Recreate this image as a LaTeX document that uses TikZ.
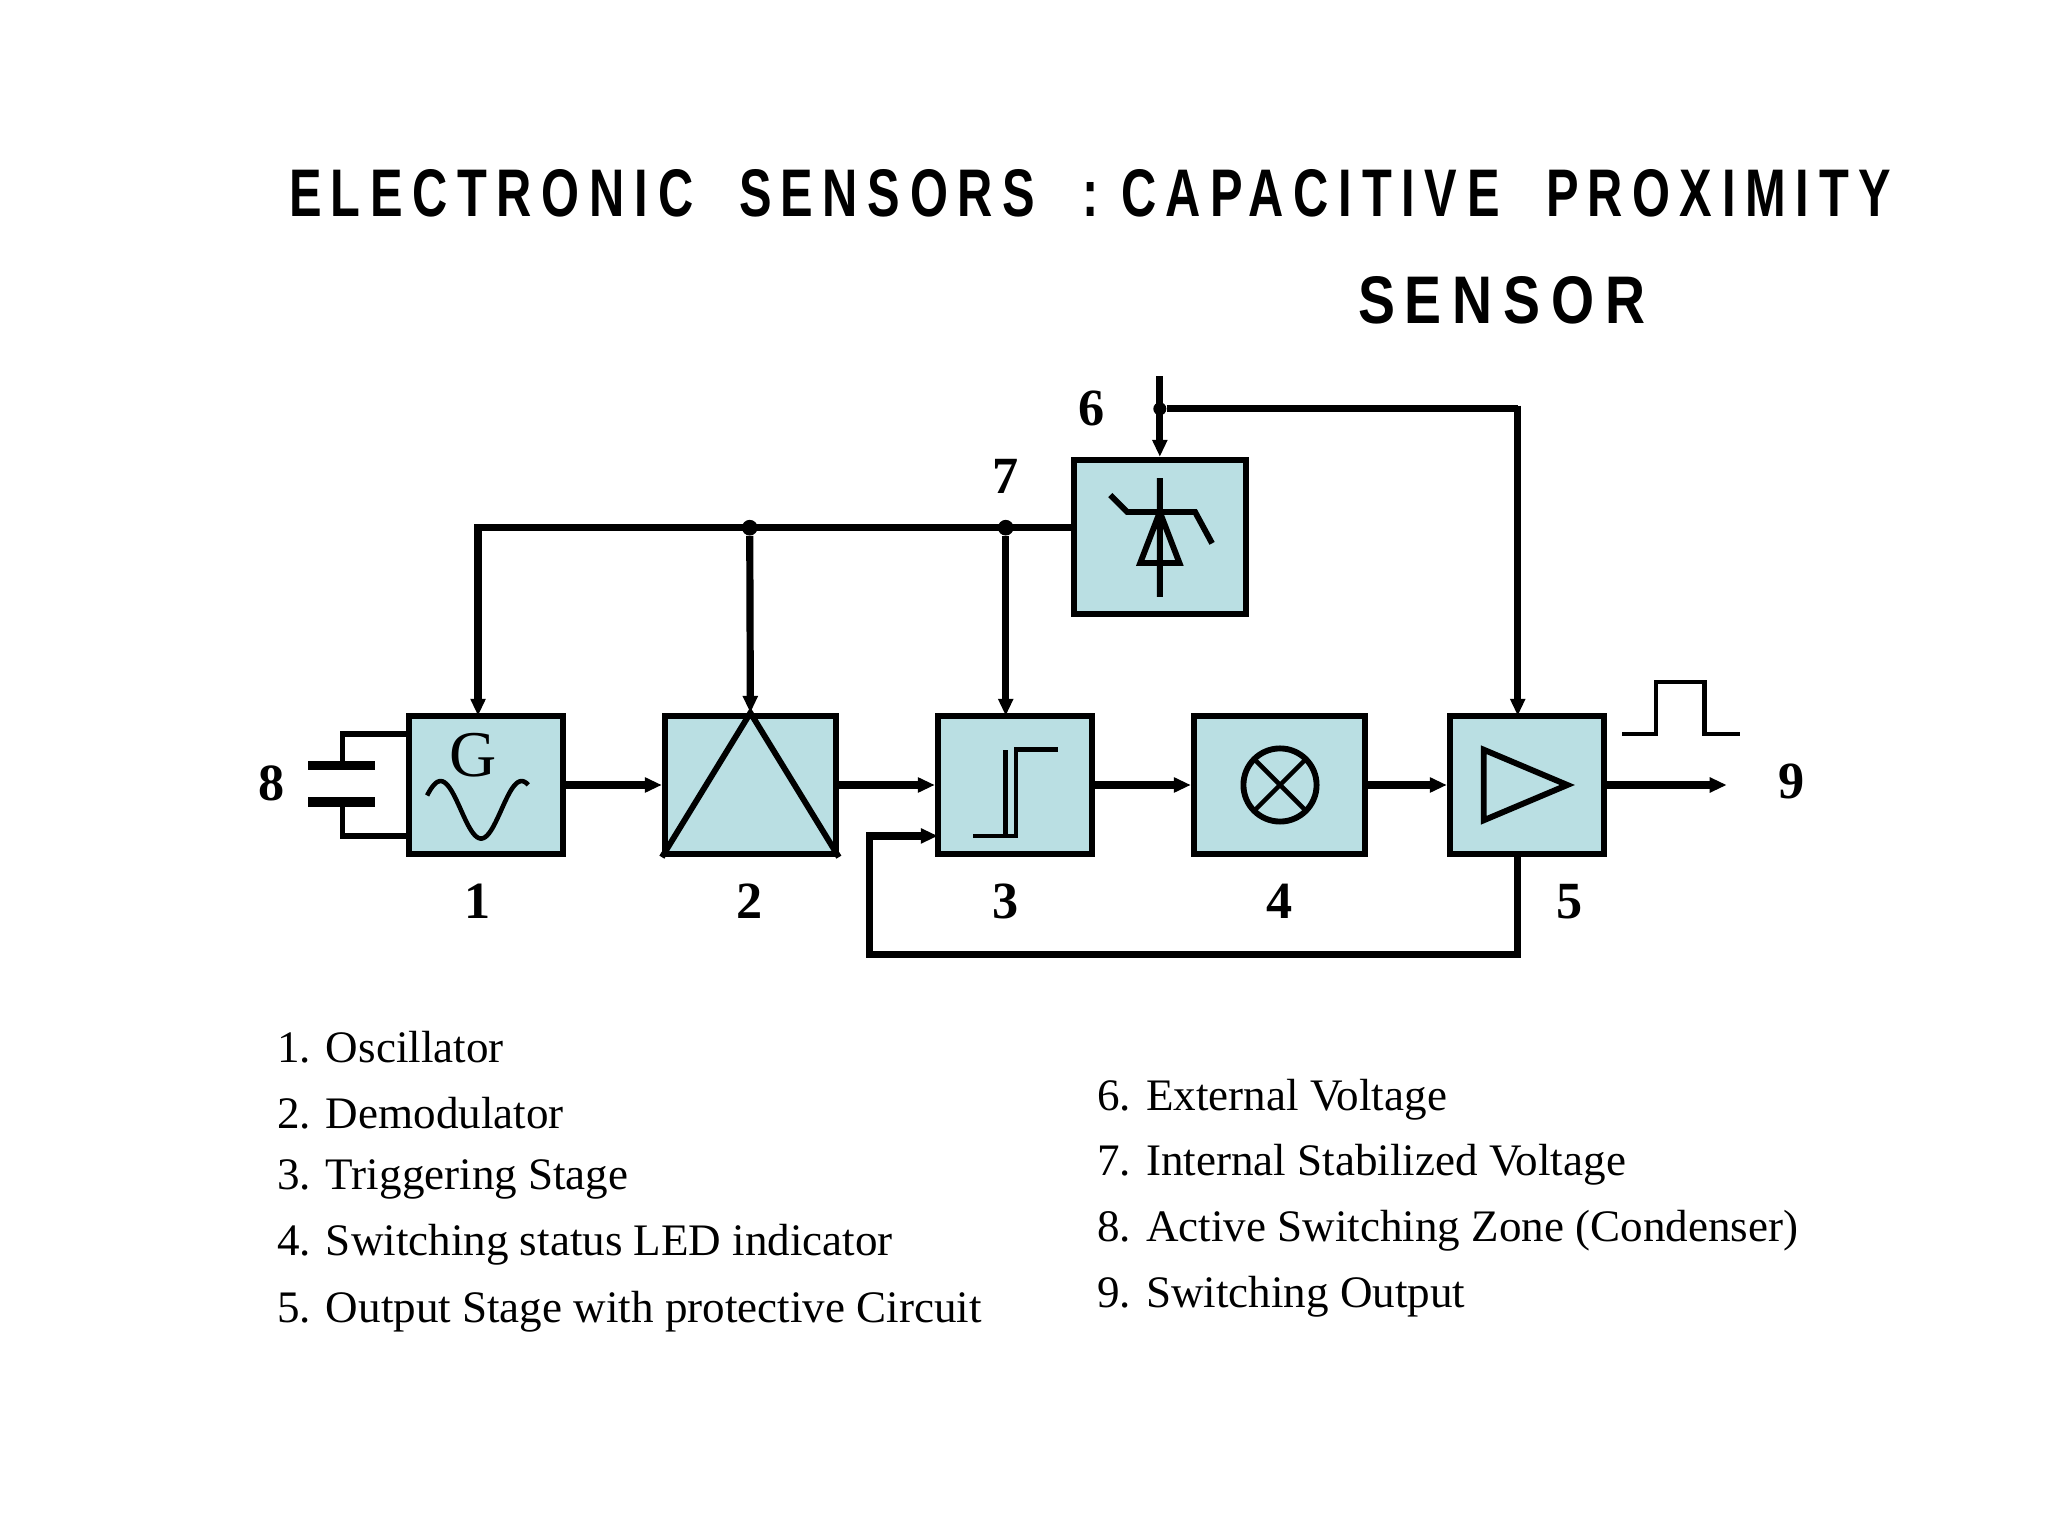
\documentclass[tikz,border=0pt]{standalone}
\usepackage{fontspec}
\setmainfont{Liberation Serif}
\usetikzlibrary{arrows.meta}
\definecolor{blk}{HTML}{BADFE3}
\begin{document}
\begin{tikzpicture}[x=1pt,y=-1pt,
  box/.style={draw,fill=blk,line width=4.5pt,minimum width=#1,minimum height=106pt,inner sep=0pt},
  wire/.style={line width=5.5pt},
  arr/.style={wire,-{Triangle[length=13pt,width=11pt]}},
  sym/.style={line width=4.5pt},
  num/.style={font=\fontsize{40}{40}\selectfont\bfseries},
  leg/.style={font=\fontsize{34.5}{34.5}\selectfont,anchor=west,inner sep=0pt},
  dot/.style={circle,fill,inner sep=0pt,minimum size=12pt}]
\useasboundingbox (0,0) rectangle (1568,1176);
% title
\node[anchor=center,inner sep=0pt] (title) at (835,148) {\resizebox{1226pt}{36pt}{\fontspec{Liberation Sans}[LetterSpace=20]\bfseries E\,LECTRONIC\ \ S\,ENSORS\ \ :\ C\,APACITIVE\ \ P\,ROXIMITY}};
\node[anchor=center,inner sep=0pt] (title2) at (1150,230) {\resizebox{220pt}{36pt}{\fontspec{Liberation Sans}[LetterSpace=20]\bfseries S\,ENSOR}};
% blocks
\node[box=118pt] (b1) at (372,601) {};
\node[box=131pt] (b2) at (574.5,601) {};
\node[box=118pt] (b3) at (777,601) {};
\node[box=131pt] (b4) at (979.5,601) {};
\node[box=118pt] (b5) at (1169,601) {};
\node[box=132pt,minimum height=118pt] (b6) at (888,411) {};
% symbols
\node[inner sep=0pt,font=\fontsize{50}{50}\selectfont] (G) at (362,578) {G};
\draw[line width=3.5pt,domain=0:1.25,samples=60,smooth,variable=\t] plot ({327+\t*62},{620+22*sin(360*\t-150)});
\draw[sym] (b2.south west) -- (b2.north) -- (b2.south east);
\draw[line width=3.5pt] (745,640) -- (778,640) -- (778,574) -- (810,574) (770,640) -- (770,574);
\draw[sym] (980,601) circle[x radius=28pt,y radius=28pt];
\draw[line width=3.5pt] (960,581) -- (1000,621) (1000,581) -- (960,621);
\draw[sym,line join=miter] (1136,574) -- (1136,628) -- (1200,601) -- cycle;
\draw[sym] (888,366) -- (888,457) (873,431) -- (888,392) -- (903,431) -- cycle;
\draw[sym] (850,379) -- (863,392) -- (915,392) -- (928,416);
% capacitor
\coordinate (cu) at (262,586); \coordinate (cl) at (262,614);
\draw[line width=7pt] (236,586) -- (287,586) (236,614) -- (287,614);
\draw[line width=4pt] (cu) -- (262,562) -- (313,562) (cl) -- (262,640) -- (313,640);
% main chain
\draw[arr] (b1.east) -- (b2.west);
\draw[arr] (b2.east) -- (b3.west);
\draw[arr] (b3.east) -- (b4.west);
\draw[arr] (b4.east) -- (b5.west);
\coordinate (o9) at (1322,601);
\draw[arr] (b5.east) -- (o9);
\draw[line width=3.5pt] (1242,562) -- (1268,562) -- (1268,522) -- (1305,522) -- (1305,562) -- (1332,562);
% top bus
\node[dot] (j2) at (574,404) {};
\node[dot] (j3) at (770,404) {};
\draw[wire] (b6.west |- 0,404) -- (366,404);
\draw[arr] (366,401.5) -- (366,548);
\draw[arr] (j2) -- (b2.north);
\draw[arr] (j3) -- (770,548);
% external voltage
\coordinate (ext) at (888,288);
\node[dot,minimum size=10pt] (j6) at (888,313) {};
\draw[arr] (ext) -- (b6.north);
\draw[wire] (j6) -- (1162,313);
\draw[arr] (1162,310.5) -- (1162,548);
% feedback
\coordinate (fb) at (718,640);
\draw[arr] (1162,654) -- (1162,731) -- (666,731) -- (666,640) -- (fb);
% numbers
\node[num] (n8) at (208,600) {8};
\node[num] (n9) at (1372,598) {9};
\node[num] (n1) at (366,690) {1};
\node[num] (n2) at (574,690) {2};
\node[num] (n3) at (770,690) {3};
\node[num] (n4) at (980,690) {4};
\node[num] (n5) at (1202,690) {5};
\node[num] (n6) at (836,313) {6};
\node[num] (n7) at (770,365) {7};
% legend
\node[leg] (l1) at (212,802) {1. Oscillator};
\node[leg] (l2) at (212,852) {2. Demodulator};
\node[leg] (l3) at (212,903) {3. Triggering Stage};
\node[leg] (l4) at (212,953) {4. Switching status LED indicator};
\node[leg] (l5) at (212,1004) {5. Output Stage with protective Circuit};
\node[leg] (l6) at (840,842) {6. External Voltage};
\node[leg] (l7) at (840,892) {7. Internal Stabilized Voltage};
\node[leg] (l8) at (840,942) {8. Active Switching Zone (Condenser)};
\node[leg] (l9) at (840,993) {9. Switching Output};
\end{tikzpicture}
\end{document}
